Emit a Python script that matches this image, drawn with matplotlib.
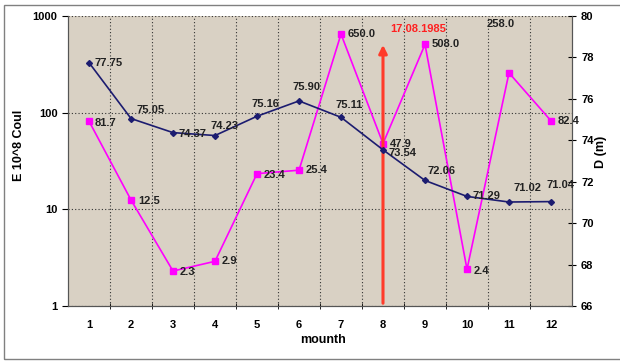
import matplotlib.pyplot as plt
from matplotlib.patches import Rectangle

plt.rcParams['font.family'] = ['Liberation Sans', 'DejaVu Sans']
plt.rcParams['font.weight'] = 'bold'

months = list(range(1, 13))
month_labels = [str(m) for m in months]
energy = [81.7, 12.5, 2.3, 2.9, 23.4, 25.4, 650.0, 47.9, 508.0, 2.4, 258.0, 82.4]
depth = [77.75, 75.05, 74.37, 74.23, 75.16, 75.90, 75.11, 73.54, 72.06, 71.29, 71.02, 71.04]
event_month = 8
event_label = '17.08.1985'

# label offsets (points) for each point
e_off = [(4, -1), (5, -1), (5, -1), (5, 0), (5, -1), (5, 0), (5, 0), (5, 0), (5, 0), (5, -1), (-16, 35), (5, 0)]
d_off = [(4, 0), (4, 6), (4, -1), (-3, 7), (-4, 9), (-5, 10), (-4, 9), (4, -2), (2, 7), (4, 0), (3, 10), (-3, 12)]

fig = plt.figure(figsize=(6.2, 3.61), dpi=100)
fig.patches.append(Rectangle((4 / 620, 2 / 361), 1.2, 354 / 361, transform=fig.transFigure,
                             facecolor='none', edgecolor='#808080', linewidth=1.0))
ax = fig.add_axes([68 / 620, 55 / 361, 504 / 620, 290 / 361])
ax.set_facecolor('#d9d1c4')
ax2 = ax.twinx()

ax.set_yscale('log')
ax.set_ylim(1, 1000)
ax.set_xlim(0.5, 12.5)
ax2.set_ylim(66, 80)
ax2.set_yticks(range(66, 81, 2))

ax.set_xticks(months)
ax.set_xticklabels(month_labels)
ax.set_xticks([m + 0.5 for m in months[:-1]], minor=True)
ax.tick_params(axis='x', which='major', length=0, pad=10, labelsize=8)
ax.tick_params(axis='x', which='minor', length=4, direction='inout')
ax.set_yticks([1, 10, 100, 1000])
ax.set_yticklabels(['1', '10', '100', '1000'])
ax.yaxis.set_minor_locator(plt.NullLocator())
ax.tick_params(axis='y', length=4, labelsize=8)
ax2.tick_params(axis='y', length=6, direction='inout', labelsize=8)

ax.grid(True, axis='x', which='minor', linestyle=(0, (1, 2)), color='#333333', linewidth=0.8)
ax.grid(True, axis='y', which='major', linestyle=(0, (1, 2)), color='#333333', linewidth=0.8)
ax.spines['top'].set_visible(False)
ax2.spines['top'].set_visible(False)
for a in (ax, ax2):
    for sp in a.spines.values():
        sp.set_color('#555555')

ax.plot(months, energy, color='#ff00ff', marker='s', markersize=4.5, linewidth=1.2, zorder=3)
ax2.plot(months, depth, color='#1c1c70', marker='D', markersize=3, linewidth=1.2, zorder=3)

for m, v, o in zip(months, energy, e_off):
    ax.annotate(f'{v:.1f}', (m, v), xytext=o, textcoords='offset points',
                fontsize=8, fontweight='bold', color='#222222', va='center', ha='left')
for m, v, o in zip(months, depth, d_off):
    ax2.annotate(f'{v:.2f}', (m, v), xytext=o, textcoords='offset points',
                 fontsize=8, fontweight='bold', color='#222222', va='center', ha='left')

ax2.annotate('', xy=(event_month, 0.91), xytext=(event_month, 0.0),
             xycoords=ax2.get_xaxis_transform(), textcoords=ax2.get_xaxis_transform(),
             arrowprops=dict(arrowstyle='-|>', color='#ff3b2a', linewidth=2.2, mutation_scale=12),
             zorder=2)
ax2.text(event_month + 0.18, 0.955, event_label, transform=ax2.get_xaxis_transform(),
         color='#ff2020', fontsize=8, fontweight='bold', va='center', ha='left')

ax.set_xlabel('mounth', fontsize=9, fontweight='bold')
ax.xaxis.set_label_coords(0.505, -0.098)
ax.set_ylabel('E 10^8 Coul', fontsize=9, fontweight='bold')
ax.yaxis.set_label_coords(-0.085, 0.555)
ax2.set_ylabel('D (m)', fontsize=9, fontweight='bold')
ax2.yaxis.set_label_coords(1.045, 0.53)

fig.savefig('out.png', dpi=100)
